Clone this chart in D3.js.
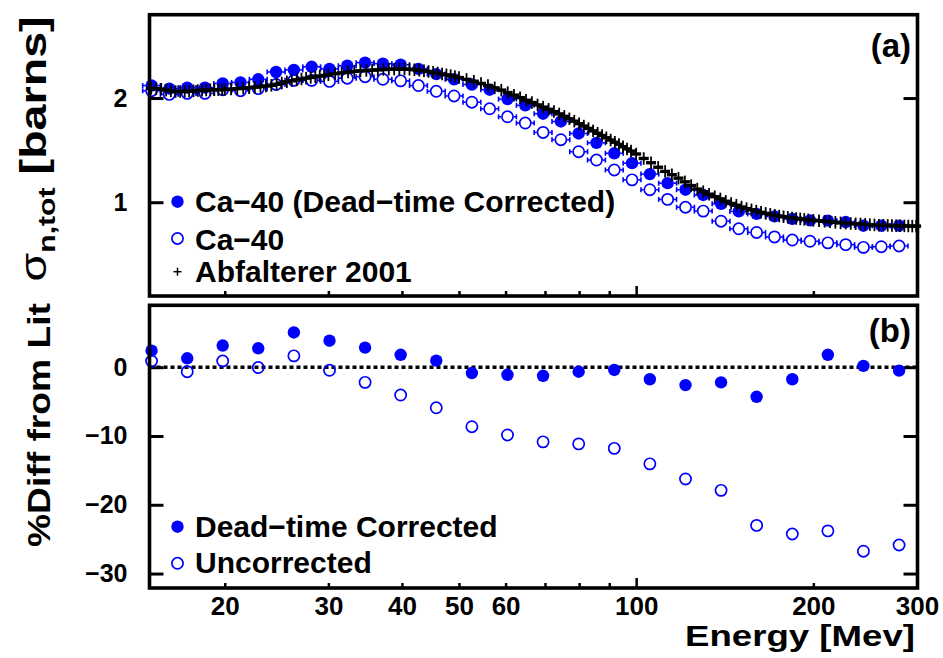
<!DOCTYPE html>
<html lang="en">
<head>
<meta charset="utf-8">
<title>Ca-40 total cross section</title>
<script src="https://d3js.org/d3.v7.min.js"></script>
<style>
  body { margin: 0; background: #fff; }
  svg text { font-family: "Liberation Sans", Arial, sans-serif; font-weight: bold; fill: #000; }
</style>
</head>
<body>
<div id="viz"></div>
<script>
// ---- data ----
// Ca-40 bins, top panel
var caE = [15.02, 16.10, 17.27, 18.51, 19.84, 21.27, 22.80, 24.45, 26.21, 28.10,
           30.13, 32.30, 34.63, 37.13, 39.80, 42.67, 45.75, 49.05, 52.59, 56.38,
           60.45, 64.81, 69.48, 74.49, 79.86, 85.62, 91.80, 98.40, 105.5, 113.1,
           121.3, 130.0, 139.4, 149.4, 160.2, 171.8, 184.2, 197.4, 211.7, 227.0,
           243.3, 260.9, 279.7];
var caCorr = [2.12, 2.09, 2.10, 2.10, 2.14, 2.15, 2.18, 2.25, 2.27, 2.30,
              2.28, 2.31, 2.34, 2.33, 2.32, 2.28, 2.23, 2.18, 2.13, 2.08,
              1.99, 1.93, 1.85, 1.775, 1.66, 1.57, 1.47, 1.375, 1.27, 1.183,
              1.12, 1.07, 0.985, 0.912, 0.888, 0.864, 0.84, 0.826, 0.823, 0.81,
              0.775, 0.775, 0.775];
var caRaw = [2.07, 2.035, 2.045, 2.045, 2.08, 2.07, 2.09, 2.13, 2.17, 2.17,
             2.16, 2.19, 2.205, 2.18, 2.165, 2.12, 2.065, 2.02, 1.96, 1.897,
             1.82, 1.76, 1.67, 1.60, 1.485, 1.405, 1.31, 1.215, 1.12, 1.027,
             0.952, 0.915, 0.818, 0.745, 0.71, 0.667, 0.637, 0.625, 0.61, 0.593,
             0.567, 0.573, 0.58];

// bottom panel: % difference from literature
var diffE = [15.02, 17.27, 19.84, 22.80, 26.21, 30.13, 34.63, 39.80, 45.75, 52.59,
             60.45, 69.48, 79.86, 91.80, 105.5, 121.3, 139.4, 160.2, 184.2, 211.7,
             243.3, 279.7];
var diffCorr = [2.4, 1.3, 3.15, 2.75, 5.05, 3.85, 2.85, 1.8, 0.95, -0.85,
                -1.1, -1.25, -0.65, -0.4, -1.75, -2.6, -2.2, -4.3, -1.75, 1.8,
                0.2, -0.5];
var diffRaw = [0.9, -0.65, 0.9, -0.05, 1.65, -0.45, -2.2, -4.05, -5.9, -8.65,
               -9.85, -10.85, -11.15, -11.8, -14.05, -16.25, -17.9, -23.0, -24.25, -23.8,
               -26.75, -25.85];

// Abfalterer 2001
var litE = [15.0, 15.3, 15.6, 15.9, 16.2, 16.5, 16.8, 17.1, 17.4, 17.7, 18.0, 18.3, 18.6, 18.9, 19.2, 19.5, 19.8,
            20.0, 20.5, 21.0, 21.5, 22.0, 22.5, 23.0, 23.5, 24.0, 24.5, 25.0, 25.5, 26.0, 26.5, 27.0, 27.5, 28.0, 28.5, 29.0, 29.5,
            30.0, 30.8, 31.6, 32.4, 33.2, 34.0, 34.8, 35.6, 36.4, 37.2, 38.0, 38.8, 39.6, 40.4, 41.2, 42.0, 42.8, 43.6, 44.4, 45.2,
            46.0, 46.8, 47.6, 48.4, 49.2,
            50, 51.5, 53, 54.5, 56, 57.5, 59, 60.5, 62, 63.5, 65, 66.5, 68, 69.5, 71, 72.5, 74, 75.5, 77, 78.5,
            80, 81.5, 83, 84.5, 86, 87.5, 89, 90.5, 92, 93.5, 95, 96.5, 98,
            100, 103, 106, 109, 112, 115, 118, 121, 124, 127, 130, 133, 136, 139, 142, 145, 148, 151, 154, 157,
            160, 163, 166, 169, 172, 175, 178, 181, 184, 187, 190, 193, 196,
            200, 204.5, 209, 213.5, 218, 222.5, 227, 231.5, 236, 240.5, 245, 249.5, 254, 258.5, 263, 267.5,
            272, 276.5, 281, 285.5, 290, 294.5, 299];
var litSigma = [2.094, 2.090, 2.085, 2.076, 2.068, 2.062, 2.063, 2.065, 2.067, 2.069, 2.072, 2.075, 2.077, 2.078, 2.079, 2.080, 2.081,
                2.082, 2.086, 2.090, 2.094, 2.099, 2.104, 2.110, 2.116, 2.122, 2.132, 2.144, 2.156, 2.166, 2.175, 2.183, 2.191, 2.198, 2.204, 2.211, 2.217,
                2.223, 2.233, 2.242, 2.249, 2.256, 2.261, 2.265, 2.268, 2.271, 2.274, 2.277, 2.278, 2.278, 2.278, 2.276, 2.272, 2.267, 2.262, 2.255, 2.247,
                2.240, 2.232, 2.223, 2.215, 2.206,
                2.197, 2.179, 2.161, 2.140, 2.120, 2.098, 2.076, 2.052, 2.028, 2.004, 1.979, 1.957, 1.934, 1.913, 1.892, 1.870, 1.848, 1.824, 1.801, 1.778,
                1.754, 1.731, 1.708, 1.685, 1.662, 1.640, 1.619, 1.597, 1.576, 1.555, 1.533, 1.512, 1.491,
                1.463, 1.420, 1.379, 1.336, 1.296, 1.264, 1.231, 1.196, 1.160, 1.126, 1.101, 1.076, 1.053, 1.032, 1.009, 0.988, 0.971, 0.954, 0.939, 0.927,
                0.914, 0.903, 0.893, 0.884, 0.875, 0.868, 0.861, 0.855, 0.849, 0.844, 0.840, 0.835, 0.831,
                0.826, 0.822, 0.817, 0.812, 0.807, 0.802, 0.799, 0.796, 0.793, 0.791, 0.788, 0.785, 0.782, 0.780, 0.779, 0.778,
                0.776, 0.775, 0.774, 0.773, 0.772, 0.771, 0.771];
var litErr = 0.06;

var xTicks = [20, 30, 40, 50, 60, 70, 80, 90, 100, 200, 300];
var xLabels = [20, 30, 40, 50, 60, 100, 200, 300];
var topTicks = [1, 2];
var botTicks = [0, -10, -20, -30];

// ---- layout ----
var W = 943, H = 658;
var left = 149.5, right = 917.5;
var top1 = 14.7, bot1 = 296;
var top2 = 305.3, bot2 = 588;
var blue = "#0000ff";

var svg = d3.select("#viz").append("svg")
  .attr("width", W)
  .attr("height", H);

var x = d3.scaleLog().domain([14.9, 300.6]).range([left, right]);
var yTop = d3.scaleLinear().domain([0.1, 2.8]).range([bot1, top1]);
var yBot = d3.scaleLinear().domain([-32.1, 9.0]).range([bot2, top2]);

// ---- axes ----
function yAxes(scale, ticks) {
  var g = svg.append("g").attr("transform", "translate(" + left + ",0)")
    .call(d3.axisLeft(scale).tickValues(ticks).tickFormat(d3.format("d"))
      .tickSizeInner(-14).tickSizeOuter(0).tickPadding(22));
  g.select(".domain").remove();
  g.selectAll("line").attr("stroke", "#000").attr("stroke-width", 3);
  g.selectAll("text").style("font-size", "25px").style("font-family", "Liberation Sans, Arial, sans-serif")
    .style("font-weight", "bold");
  var r = svg.append("g").attr("transform", "translate(" + right + ",0)")
    .call(d3.axisRight(scale).tickValues(ticks).tickSizeInner(-14).tickSizeOuter(0).tickFormat(""));
  r.select(".domain").remove();
  r.selectAll("line").attr("stroke", "#000").attr("stroke-width", 3);
}
yAxes(yTop, topTicks);
yAxes(yBot, botTicks);

function xAxis(yPos, labelled) {
  var g = svg.append("g").attr("transform", "translate(0," + yPos + ")")
    .call(d3.axisBottom(x).tickValues(xTicks).tickSizeInner(-5).tickSizeOuter(0).tickPadding(9)
      .tickFormat(function(d) { return labelled && xLabels.indexOf(d) >= 0 ? d : ""; }));
  g.select(".domain").remove();
  g.selectAll("line").attr("stroke", "#000").attr("stroke-width", 2.5)
    .attr("y2", function(d) { return d === 100 ? -10 : -5; });
  g.selectAll("text").style("font-size", "26px").style("font-family", "Liberation Sans, Arial, sans-serif")
    .style("font-weight", "bold");
}
xAxis(bot1, false);
xAxis(bot2, true);

// zero line
svg.append("line")
  .attr("x1", left).attr("x2", right)
  .attr("y1", yBot(0)).attr("y2", yBot(0))
  .attr("stroke", "#000").attr("stroke-width", 3.5).attr("stroke-dasharray", "4,3");

// ---- top panel data ----
function halfWidths(E) {
  return E.map(function(e, i) {
    var a = i > 0 ? x(E[i - 1]) : 2 * x(e) - x(E[i + 1]);
    var b = i < E.length - 1 ? x(E[i + 1]) : 2 * x(e) - x(E[i - 1]);
    return (b - a) / 4;
  });
}
var hw = halfWidths(caE);

function binStubs(vals, r) {
  var g = svg.append("g").attr("stroke", blue).attr("stroke-width", 1.6);
  caE.forEach(function(e, i) {
    var cx = x(e), cy = yTop(vals[i]), h = hw[i];
    [-1, 1].forEach(function(s) {
      g.append("line").attr("x1", cx + s * r).attr("x2", cx + s * h).attr("y1", cy).attr("y2", cy);
      g.append("line").attr("x1", cx + s * h).attr("x2", cx + s * h).attr("y1", cy - 2.5).attr("y2", cy + 2.5);
    });
  });
}

binStubs(caRaw, 6.3);
svg.append("g").selectAll("circle").data(caE).enter().append("circle")
  .attr("cx", function(d) { return x(d); })
  .attr("cy", function(d, i) { return yTop(caRaw[i]); })
  .attr("r", 5.6).attr("fill", "none").attr("stroke", blue).attr("stroke-width", 1.7);

binStubs(caCorr, 6);
svg.append("g").selectAll("circle").data(caE).enter().append("circle")
  .attr("cx", function(d) { return x(d); })
  .attr("cy", function(d, i) { return yTop(caCorr[i]); })
  .attr("r", 6.2).attr("fill", blue);

var lit = svg.append("g").attr("stroke", "#000");
litE.forEach(function(e, i) {
  var cx = x(e), v = litSigma[i];
  lit.append("line").attr("x1", cx).attr("x2", cx).attr("stroke-width", 1.8)
    .attr("y1", yTop(v + litErr)).attr("y2", yTop(v - litErr));
  lit.append("line").attr("x1", cx - 5).attr("x2", cx + 5)
    .attr("y1", yTop(v)).attr("y2", yTop(v)).attr("stroke-width", 3.4);
});

// ---- bottom panel data ----
svg.append("g").selectAll("circle").data(diffE).enter().append("circle")
  .attr("cx", function(d) { return x(d); })
  .attr("cy", function(d, i) { return yBot(diffRaw[i]); })
  .attr("r", 5.6).attr("fill", "none").attr("stroke", blue).attr("stroke-width", 1.7);
svg.append("g").selectAll("circle").data(diffE).enter().append("circle")
  .attr("cx", function(d) { return x(d); })
  .attr("cy", function(d, i) { return yBot(diffCorr[i]); })
  .attr("r", 6.2).attr("fill", blue);

// ---- frames ----
[[top1, bot1], [top2, bot2]].forEach(function(p) {
  svg.append("rect").attr("x", left).attr("y", p[0])
    .attr("width", right - left).attr("height", p[1] - p[0])
    .attr("fill", "none").attr("stroke", "#000").attr("stroke-width", 3.6);
});

// ---- legends ----
function legFilled(cx, cy) { svg.append("circle").attr("cx", cx).attr("cy", cy).attr("r", 6.2).attr("fill", blue); }
function legOpen(cx, cy) {
  svg.append("circle").attr("cx", cx).attr("cy", cy).attr("r", 5.6)
    .attr("fill", "none").attr("stroke", blue).attr("stroke-width", 1.7);
}
function legText(tx, ty, s) {
  svg.append("text").attr("x", tx).attr("y", ty).style("font-size", "30px").text(s);
}
legFilled(177.5, 201.7); legText(195, 211.7, "Ca\u221240 (Dead\u2212time Corrected)");
legOpen(177.5, 238.5);   legText(195, 250, "Ca\u221240");
svg.append("g").attr("stroke", "#000").attr("stroke-width", 1.5).call(function(g) {
  g.append("line").attr("x1", 173.5).attr("x2", 181.5).attr("y1", 271.7).attr("y2", 271.7);
  g.append("line").attr("x1", 177.5).attr("x2", 177.5).attr("y1", 267.7).attr("y2", 275.7);
});
legText(195, 281.7, "Abfalterer 2001");

legFilled(177.5, 526.7); legText(195, 536.7, "Dead\u2212time Corrected");
legOpen(177.5, 563.3);   legText(195, 573.3, "Uncorrected");

// panel tags
svg.append("text").attr("x", 911).attr("y", 57).attr("text-anchor", "end").style("font-size", "33px").text("(a)");
svg.append("text").attr("x", 911).attr("y", 342).attr("text-anchor", "end").style("font-size", "33px").text("(b)");

// ---- axis titles ----
svg.append("text").attr("x", 915).attr("y", 646).attr("text-anchor", "end")
  .attr("textLength", 230).attr("lengthAdjust", "spacingAndGlyphs")
  .style("font-size", "30px").text("Energy [Mev]");

svg.append("text").attr("transform", "translate(50,425) rotate(-90)").attr("text-anchor", "middle")
  .attr("textLength", 244).attr("lengthAdjust", "spacingAndGlyphs")
  .style("font-size", "32px").text("%Diff from Lit");

var sig = svg.append("text").attr("transform", "translate(46,149) rotate(-90) scale(1.26,1)")
  .attr("text-anchor", "middle").style("font-size", "37px");
sig.append("tspan").style("font-weight", "normal").text("\u03c3");
sig.append("tspan").attr("dy", 9).style("font-size", "24px").text("n,tot");
sig.append("tspan").attr("dy", -9).text(" [barns]");
</script>
</body>
</html>
